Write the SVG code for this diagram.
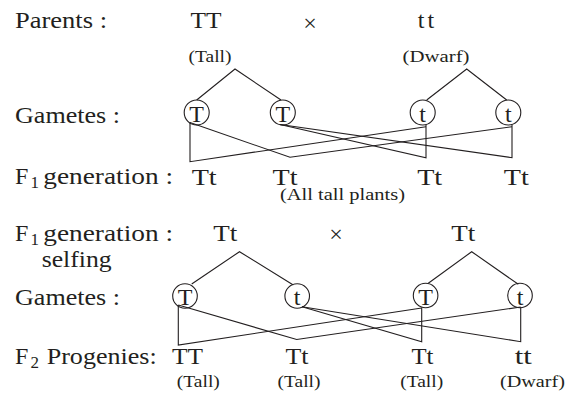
<svg xmlns="http://www.w3.org/2000/svg" width="574" height="396" viewBox="0 0 574 396">
<style>
text{font-family:"Liberation Serif","Times New Roman",serif;fill:#231f20;font-size:24px}
.m{text-anchor:middle}
.s{font-size:16px}
.sub{font-size:17px}
.c{fill:none;stroke:#231f20;stroke-width:1.1}
.ln{fill:none;stroke:#231f20;stroke-width:1.1;stroke-linejoin:miter}
</style>
<rect width="574" height="396" fill="#fff"/>
<g id="row-labels">
<text x="15" y="28" textLength="92" lengthAdjust="spacingAndGlyphs">Parents :</text>
<text x="15" y="123" textLength="105" lengthAdjust="spacingAndGlyphs">Gametes :</text>
<text x="15" y="184">F</text><text x="30.5" y="188" class="sub">1</text><text x="43.3" y="184" textLength="129.7" lengthAdjust="spacingAndGlyphs">generation :</text>
<text x="15" y="241">F</text><text x="30.5" y="245" class="sub">1</text><text x="43.3" y="241" textLength="129.7" lengthAdjust="spacingAndGlyphs">generation :</text>
<text x="41.7" y="267" textLength="70" lengthAdjust="spacingAndGlyphs">selfing</text>
<text x="15" y="305" textLength="105" lengthAdjust="spacingAndGlyphs">Gametes :</text>
<text x="15" y="364">F</text><text x="30.5" y="368" class="sub">2</text><text x="46.7" y="364" textLength="110" lengthAdjust="spacingAndGlyphs">Progenies:</text>
</g>
<g id="parent-TT"><text class="m" x="206" y="28" textLength="31" lengthAdjust="spacingAndGlyphs">TT</text><text class="m s" x="210" y="61.5" textLength="43" lengthAdjust="spacingAndGlyphs">(Tall)</text></g>
<g id="cross-1"><text class="m" x="310" y="30.5">×</text></g>
<g id="parent-tt"><text class="m" x="427.5" y="28" letter-spacing="3">tt</text><text class="m s" x="436" y="61.5" textLength="67" lengthAdjust="spacingAndGlyphs">(Dwarf)</text></g>
<g id="gamete-T1"><circle class="c" cx="196.7" cy="112.5" r="12.5"/><text class="m" x="196.7" y="121.5">T</text></g>
<g id="gamete-T2"><circle class="c" cx="282.8" cy="112.5" r="12.5"/><text class="m" x="282.8" y="121.5">T</text></g>
<g id="gamete-t1"><circle class="c" cx="422.7" cy="112.5" r="12.5"/><text class="m" x="422.7" y="121.5">t</text></g>
<g id="gamete-t2"><circle class="c" cx="508.3" cy="112.5" r="12.5"/><text class="m" x="508.3" y="121.5">t</text></g>
<g id="f1-1"><text class="m" x="204.2" y="185" textLength="25" lengthAdjust="spacingAndGlyphs">Tt</text></g>
<g id="f1-2"><text class="m" x="285" y="185" textLength="25" lengthAdjust="spacingAndGlyphs">Tt</text><text x="280" y="200" class="s" textLength="125" lengthAdjust="spacingAndGlyphs">(All tall plants)</text></g>
<g id="f1-3"><text class="m" x="429.7" y="185" textLength="25" lengthAdjust="spacingAndGlyphs">Tt</text></g>
<g id="f1-4"><text class="m" x="516.3" y="185" textLength="25" lengthAdjust="spacingAndGlyphs">Tt</text></g>
<g id="f1-self-a"><text class="m" x="225.3" y="241" textLength="24" lengthAdjust="spacingAndGlyphs">Tt</text></g>
<g id="cross-2"><text class="m" x="336" y="242">×</text></g>
<g id="f1-self-b"><text class="m" x="463.3" y="241" textLength="24" lengthAdjust="spacingAndGlyphs">Tt</text></g>
<g id="gamete-bT1"><circle class="c" cx="185" cy="296" r="12.3"/><text class="m" x="185" y="305">T</text></g>
<g id="gamete-bt1"><circle class="c" cx="297.2" cy="296" r="12.3"/><text class="m" x="297.2" y="305">t</text></g>
<g id="gamete-bT2"><circle class="c" cx="425.6" cy="295.5" r="12.3"/><text class="m" x="425.6" y="304.5">T</text></g>
<g id="gamete-bt2"><circle class="c" cx="520" cy="295.5" r="12.3"/><text class="m" x="520" y="304.5">t</text></g>
<g id="f2-1"><text class="m" x="187.5" y="364" textLength="31" lengthAdjust="spacingAndGlyphs">TT</text><text class="m s" x="198.3" y="387" textLength="43" lengthAdjust="spacingAndGlyphs">(Tall)</text></g>
<g id="f2-2"><text class="m" x="297" y="364" textLength="23" lengthAdjust="spacingAndGlyphs">Tt</text><text class="m s" x="299" y="387" textLength="43" lengthAdjust="spacingAndGlyphs">(Tall)</text></g>
<g id="f2-3"><text class="m" x="422.5" y="364" textLength="22" lengthAdjust="spacingAndGlyphs">Tt</text><text class="m s" x="421.7" y="387" textLength="43" lengthAdjust="spacingAndGlyphs">(Tall)</text></g>
<g id="f2-4"><text class="m" x="523.3" y="364" textLength="17" lengthAdjust="spacingAndGlyphs">tt</text><text class="m s" x="532.5" y="387" textLength="65" lengthAdjust="spacingAndGlyphs">(Dwarf)</text></g>
<g id="connectors">
<polyline class="ln" points="196.7,100 235,69 281,100"/>
<polyline class="ln" points="426.7,100 466.7,69 506.7,100"/>
<polyline class="ln" points="190,122.5 190,161.7 426,126.7"/>
<polyline class="ln" points="190,122.5 290,157.3 512,126.7"/>
<polyline class="ln" points="280,124.5 426,157.7 426,124.5"/>
<polyline class="ln" points="280,124.5 512,157.7 512,124.5"/>
<polyline class="ln" points="191.7,284 239.5,251.7 293.3,285"/>
<polyline class="ln" points="428.3,283.3 471.7,251.7 518.3,284.3"/>
<polyline class="ln" points="178.3,305 178.3,345 421.7,308"/>
<polyline class="ln" points="178.3,305 296.7,339.5 520.7,307"/>
<polyline class="ln" points="302,306.7 421.7,341.7 421.7,307.5"/>
<polyline class="ln" points="302,306.7 520.7,341.7 520.7,307.3"/>
</g>
</svg>
